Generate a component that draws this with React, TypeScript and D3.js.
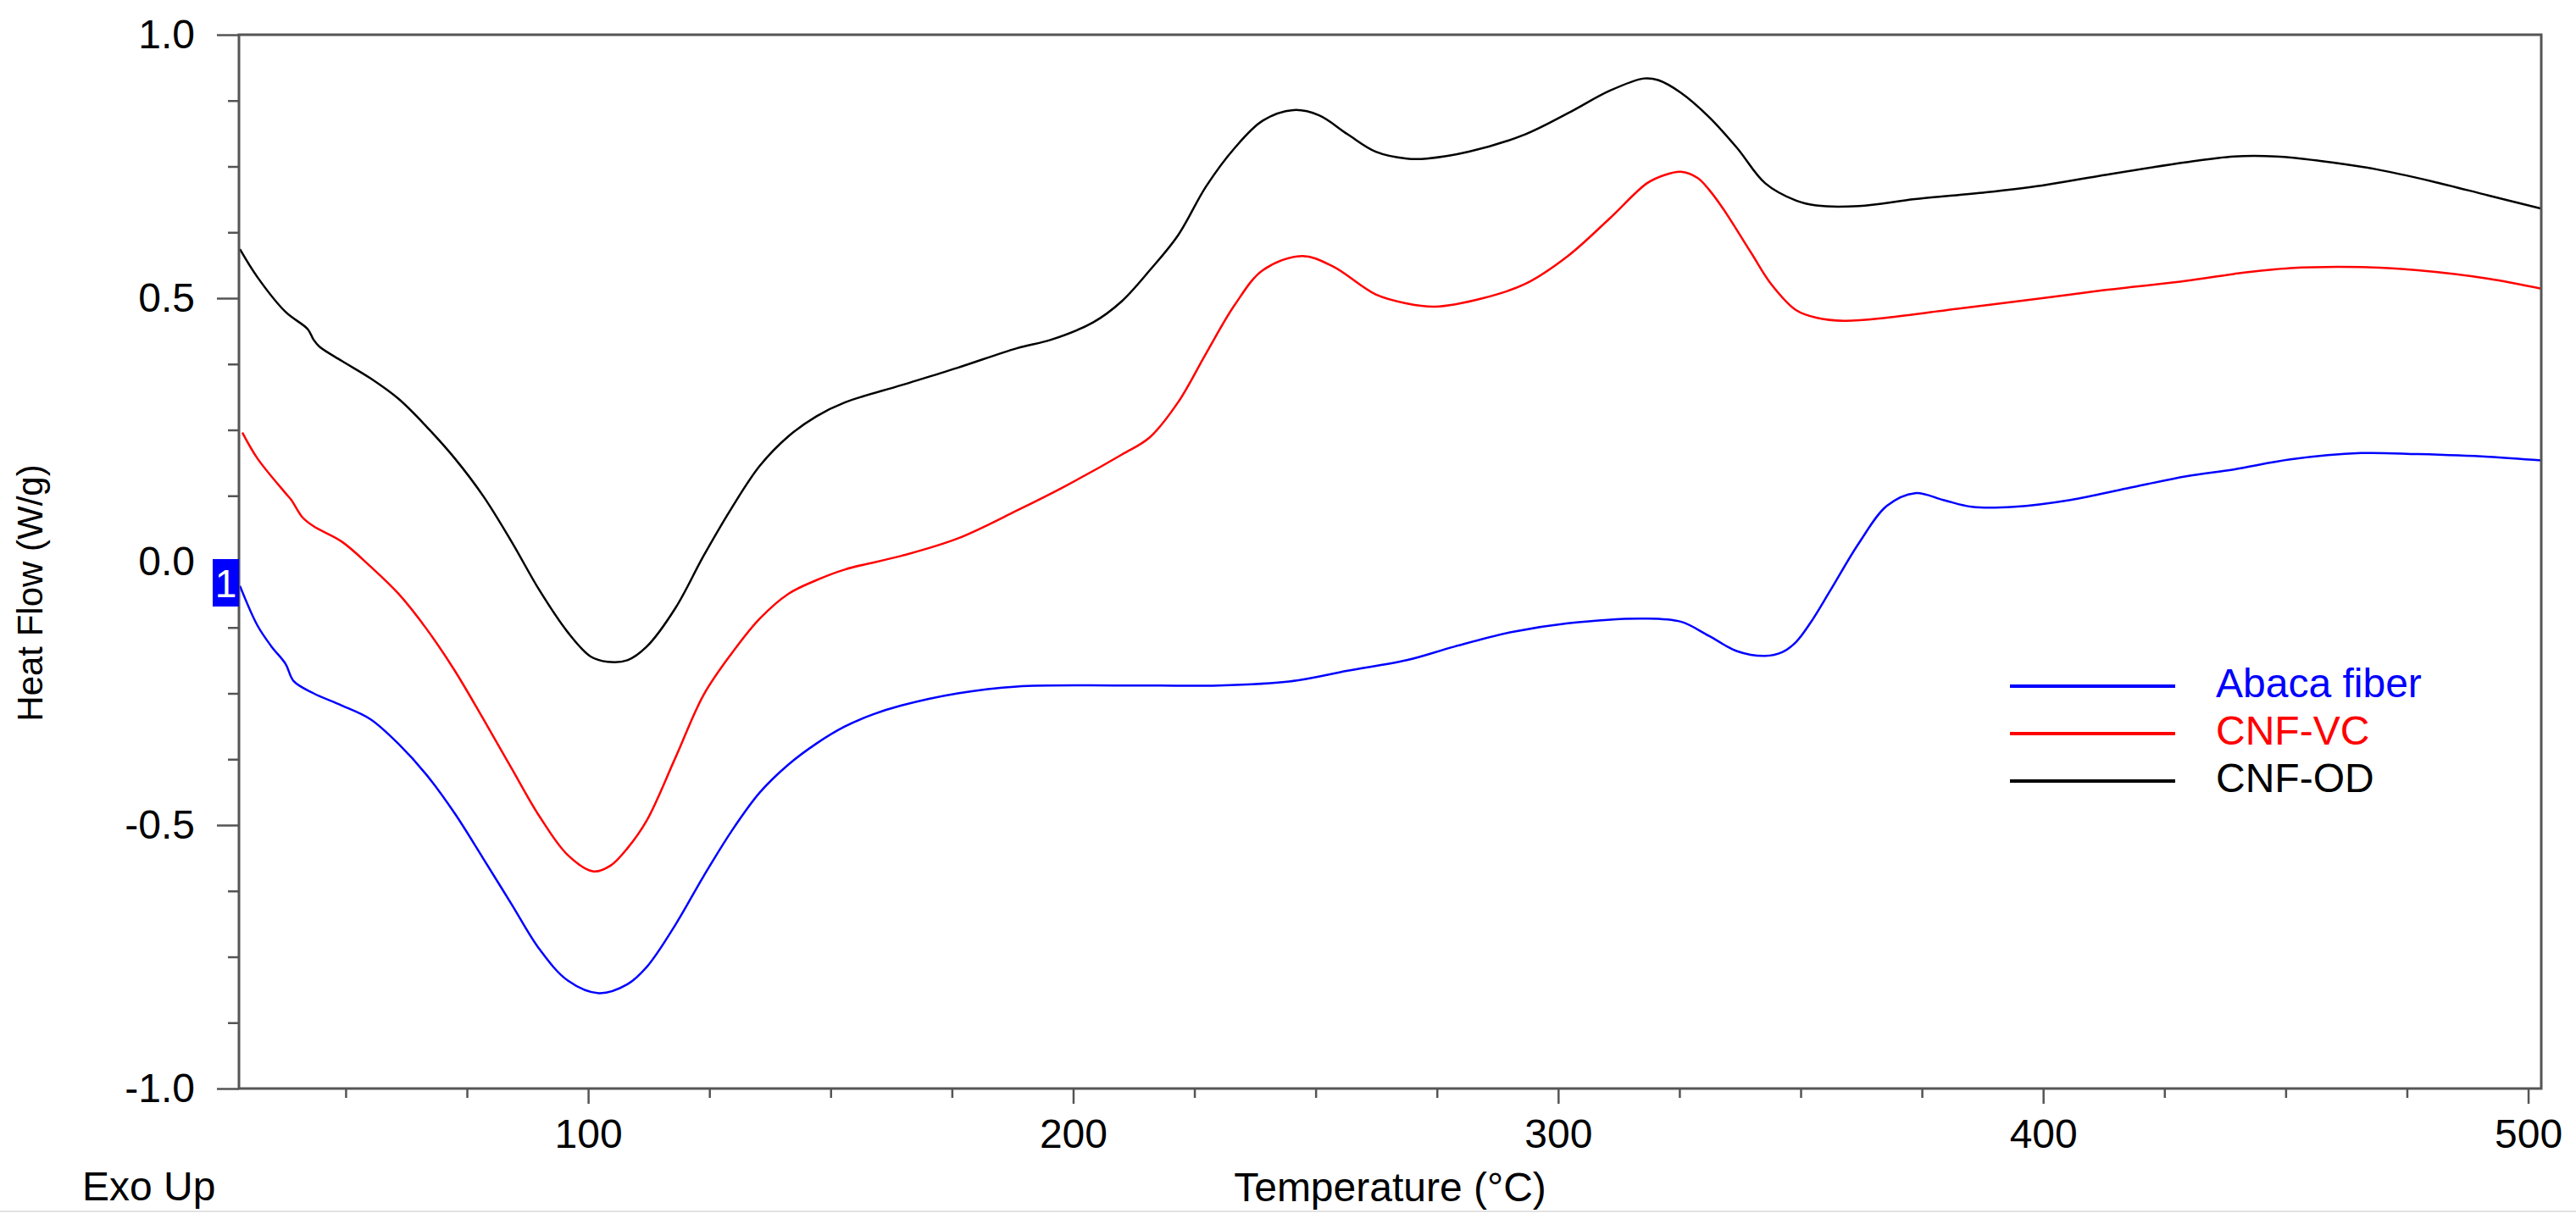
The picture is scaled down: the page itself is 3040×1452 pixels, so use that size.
import React, { useEffect, useRef } from 'react';
import * as d3 from 'd3';

// Abaca fiber (blue)
const abacaTemp = [28.2, 31.8, 34.7, 37.6, 39.3, 43.4, 49.2, 55.1, 60.9, 66.7, 72.5, 78.4, 84.2, 90.0, 95.8, 102.2, 108.1, 112.1, 118.0, 123.8, 129.6, 135.4, 141.3, 147.1, 152.9, 158.7, 164.6, 176.2, 188.4, 210, 230, 244.9, 256.6, 268.8, 278.7, 290.3, 302.0, 317.7, 325.3, 331.1, 336.9, 342.7, 346.2, 349.1, 352.1, 356.1, 362.0, 367.8, 373.6, 379.4, 385.3, 394.0, 405.6, 417.3, 429.5, 439.3, 451.0, 465.5, 477.2, 491.8, 502.7];
const abacaFlow = [-0.046, -0.121, -0.161, -0.194, -0.227, -0.250, -0.273, -0.299, -0.346, -0.405, -0.478, -0.564, -0.650, -0.736, -0.795, -0.819, -0.802, -0.769, -0.689, -0.597, -0.511, -0.438, -0.385, -0.345, -0.313, -0.290, -0.273, -0.250, -0.237, -0.235, -0.235, -0.227, -0.207, -0.187, -0.161, -0.134, -0.117, -0.108, -0.114, -0.141, -0.170, -0.179, -0.172, -0.152, -0.115, -0.055, 0.035, 0.106, 0.130, 0.117, 0.104, 0.104, 0.117, 0.139, 0.162, 0.175, 0.194, 0.206, 0.204, 0.199, 0.192];

// CNF-VC (red)
const vcTemp = [28.7, 31.8, 37.6, 38.8, 41.1, 43.4, 49.2, 55.1, 60.9, 66.7, 72.5, 78.4, 84.2, 90.0, 95.8, 101.1, 104.6, 108.1, 112.1, 118.0, 123.8, 129.6, 135.4, 141.3, 147.1, 152.9, 164.6, 176.2, 188.4, 198.3, 210.0, 215.8, 221.6, 227.4, 233.3, 239.1, 247.2, 253.6, 262.4, 268.8, 274.6, 284.5, 293.2, 302.0, 310.7, 318.3, 322.0, 325.3, 328.8, 331.1, 334.0, 339.8, 343.9, 349.1, 353.2, 359.0, 367.8, 382.3, 399.8, 411.5, 429.5, 439.3, 451.0, 465.5, 477.2, 491.8, 502.7];
const vcFlow = [0.245, 0.196, 0.130, 0.117, 0.084, 0.067, 0.038, -0.009, -0.061, -0.128, -0.207, -0.299, -0.392, -0.484, -0.557, -0.588, -0.577, -0.544, -0.491, -0.372, -0.253, -0.174, -0.108, -0.061, -0.035, -0.015, 0.011, 0.044, 0.097, 0.143, 0.203, 0.236, 0.302, 0.395, 0.487, 0.553, 0.580, 0.560, 0.507, 0.490, 0.484, 0.500, 0.527, 0.580, 0.652, 0.718, 0.734, 0.740, 0.728, 0.706, 0.670, 0.586, 0.527, 0.477, 0.463, 0.457, 0.463, 0.480, 0.500, 0.514, 0.533, 0.546, 0.557, 0.559, 0.553, 0.537, 0.518];

// CNF-OD (black)
const odTemp = [28.2, 31.8, 37.6, 42.2, 43.4, 44.6, 49.2, 55.1, 60.9, 66.7, 72.5, 78.4, 84.2, 90.0, 95.8, 100.5, 104.0, 108.1, 112.1, 118.0, 123.8, 129.6, 135.4, 141.3, 147.1, 152.9, 164.6, 176.2, 188.4, 195.4, 204.1, 210.0, 215.8, 221.6, 227.4, 233.3, 239.1, 245.5, 250.7, 256.6, 262.4, 268.8, 272.9, 281.6, 293.2, 302.0, 310.7, 317.7, 320.6, 325.3, 331.1, 336.9, 342.7, 349.1, 353.2, 362.0, 373.6, 388.2, 399.8, 411.5, 429.5, 439.3, 448.1, 456.8, 468.5, 480.1, 491.8, 502.7];
const odFlow = [0.593, 0.540, 0.474, 0.441, 0.421, 0.408, 0.381, 0.348, 0.309, 0.256, 0.196, 0.124, 0.038, -0.055, -0.134, -0.180, -0.190, -0.187, -0.161, -0.088, 0.011, 0.102, 0.182, 0.238, 0.276, 0.302, 0.335, 0.368, 0.405, 0.421, 0.454, 0.494, 0.553, 0.619, 0.712, 0.785, 0.837, 0.857, 0.847, 0.811, 0.778, 0.765, 0.765, 0.778, 0.811, 0.851, 0.894, 0.917, 0.914, 0.890, 0.844, 0.785, 0.718, 0.685, 0.676, 0.675, 0.688, 0.701, 0.714, 0.732, 0.758, 0.769, 0.769, 0.761, 0.745, 0.722, 0.695, 0.670];

const seriesNames = ['Abaca fiber', 'CNF-VC', 'CNF-OD'];
const seriesColors = ['#0000ff', '#ff0000', '#000000'];

const yMajorTicks = [-1, -0.5, 0, 0.5, 1];
const xMajorTicks = [100, 200, 300, 400, 500];

const App: React.FC = () => {
  const svgRef = useRef<SVGSVGElement | null>(null);

  useEffect(() => {
    if (!svgRef.current) return;
    document.body.style.margin = '0';

    const width = 3040;
    const height = 1452;
    const left = 282;
    const right = 2999;
    const top = 41;
    const bottom = 1285;
    const font = '"Liberation Sans", Arial, sans-serif';
    const axisColor = '#555';

    const svg = d3.select(svgRef.current)
      .attr('width', width)
      .attr('height', height)
      .style('background', '#fff');
    svg.selectAll('*').remove();

    const x = d3.scaleLinear().domain([28, 502.7]).range([left, right]);
    const y = d3.scaleLinear().domain([-1, 1]).range([bottom, top]);

    const series = [
      { temp: abacaTemp, flow: abacaFlow },
      { temp: vcTemp, flow: vcFlow },
      { temp: odTemp, flow: odFlow },
    ];

    const line = d3.line<[number, number]>()
      .x(d => x(d[0]))
      .y(d => y(d[1]))
      .curve(d3.curveCatmullRom.alpha(0.5));

    // curves
    series.forEach((s, i) => {
      const pts = s.temp.map((t, j) => [t, s.flow[j]] as [number, number]);
      svg.append('path')
        .attr('d', line(pts) || '')
        .attr('fill', 'none')
        .attr('stroke', seriesColors[i])
        .attr('stroke-width', 2.5);
    });

    // minor ticks
    const yMinor = d3.range(-1, 1.0001, 0.125).filter(v => !yMajorTicks.some(m => Math.abs(m - v) < 1e-6));
    const xMinor = d3.range(50, 501, 25).filter(v => !xMajorTicks.includes(v));

    const styleAxis = (g: d3.Selection<SVGGElement, unknown, null, undefined>) => {
      g.select('.domain').remove();
      g.selectAll('line').attr('stroke', axisColor).attr('stroke-width', 2.5);
      g.selectAll('text').attr('fill', '#000').attr('font-size', 48).attr('font-family', font);
    };

    svg.append('g')
      .attr('transform', `translate(${left},0)`)
      .call(d3.axisLeft(y).tickValues(yMinor).tickSize(13).tickSizeOuter(0).tickFormat(() => ''))
      .call(styleAxis);
    svg.append('g')
      .attr('transform', `translate(${left},0)`)
      .call(d3.axisLeft(y).tickValues(yMajorTicks).tickSize(26).tickPadding(26).tickSizeOuter(0)
        .tickFormat(d => (+d).toFixed(1)))
      .call(styleAxis);

    svg.append('g')
      .attr('transform', `translate(0,${bottom})`)
      .call(d3.axisBottom(x).tickValues(xMinor).tickSize(11).tickSizeOuter(0).tickFormat(() => ''))
      .call(styleAxis);
    svg.append('g')
      .attr('transform', `translate(0,${bottom})`)
      .call(d3.axisBottom(x).tickValues(xMajorTicks).tickSize(18).tickPadding(18).tickSizeOuter(0)
        .tickFormat(d => String(d)))
      .call(styleAxis);

    // frame
    svg.append('rect')
      .attr('x', left)
      .attr('y', top)
      .attr('width', right - left)
      .attr('height', bottom - top)
      .attr('fill', 'none')
      .attr('stroke', axisColor)
      .attr('stroke-width', 3);

    // marker "1"
    svg.append('rect')
      .attr('x', 251)
      .attr('y', 660)
      .attr('width', 31)
      .attr('height', 56)
      .attr('fill', '#0000ff');
    svg.append('text')
      .attr('x', 266.5)
      .attr('y', 705)
      .attr('text-anchor', 'middle')
      .attr('fill', '#fff')
      .attr('font-size', 46)
      .attr('font-family', font)
      .text('1');

    // legend
    const legendY = [810, 866, 922];
    seriesNames.forEach((name, i) => {
      svg.append('line')
        .attr('x1', 2372)
        .attr('x2', 2567)
        .attr('y1', legendY[i])
        .attr('y2', legendY[i])
        .attr('stroke', seriesColors[i])
        .attr('stroke-width', 4);
      svg.append('text')
        .attr('x', 2615)
        .attr('y', legendY[i] + 13)
        .attr('fill', seriesColors[i])
        .attr('font-size', 48)
        .attr('font-family', font)
        .text(name);
    });

    // axis titles
    svg.append('text')
      .attr('x', (left + right) / 2)
      .attr('y', 1418)
      .attr('text-anchor', 'middle')
      .attr('font-size', 48)
      .attr('font-family', font)
      .text('Temperature (°C)');

    svg.append('text')
      .attr('transform', `translate(50,${700}) rotate(-90)`)
      .attr('text-anchor', 'middle')
      .attr('font-size', 42)
      .attr('font-family', font)
      .text('Heat Flow (W/g)');

    svg.append('text')
      .attr('x', 97)
      .attr('y', 1417)
      .attr('font-size', 48)
      .attr('font-family', font)
      .text('Exo Up');

    // bottom separator
    svg.append('line')
      .attr('x1', 0)
      .attr('x2', width)
      .attr('y1', 1430)
      .attr('y2', 1430)
      .attr('stroke', '#e2e2e2')
      .attr('stroke-width', 2);
  }, []);

  return (
    <div style={{ width: 3040, height: 1452 }}>
      <svg ref={svgRef} style={{ position: 'absolute', left: 0, top: 0, display: 'block' }} />
    </div>
  );
};

export default App;
